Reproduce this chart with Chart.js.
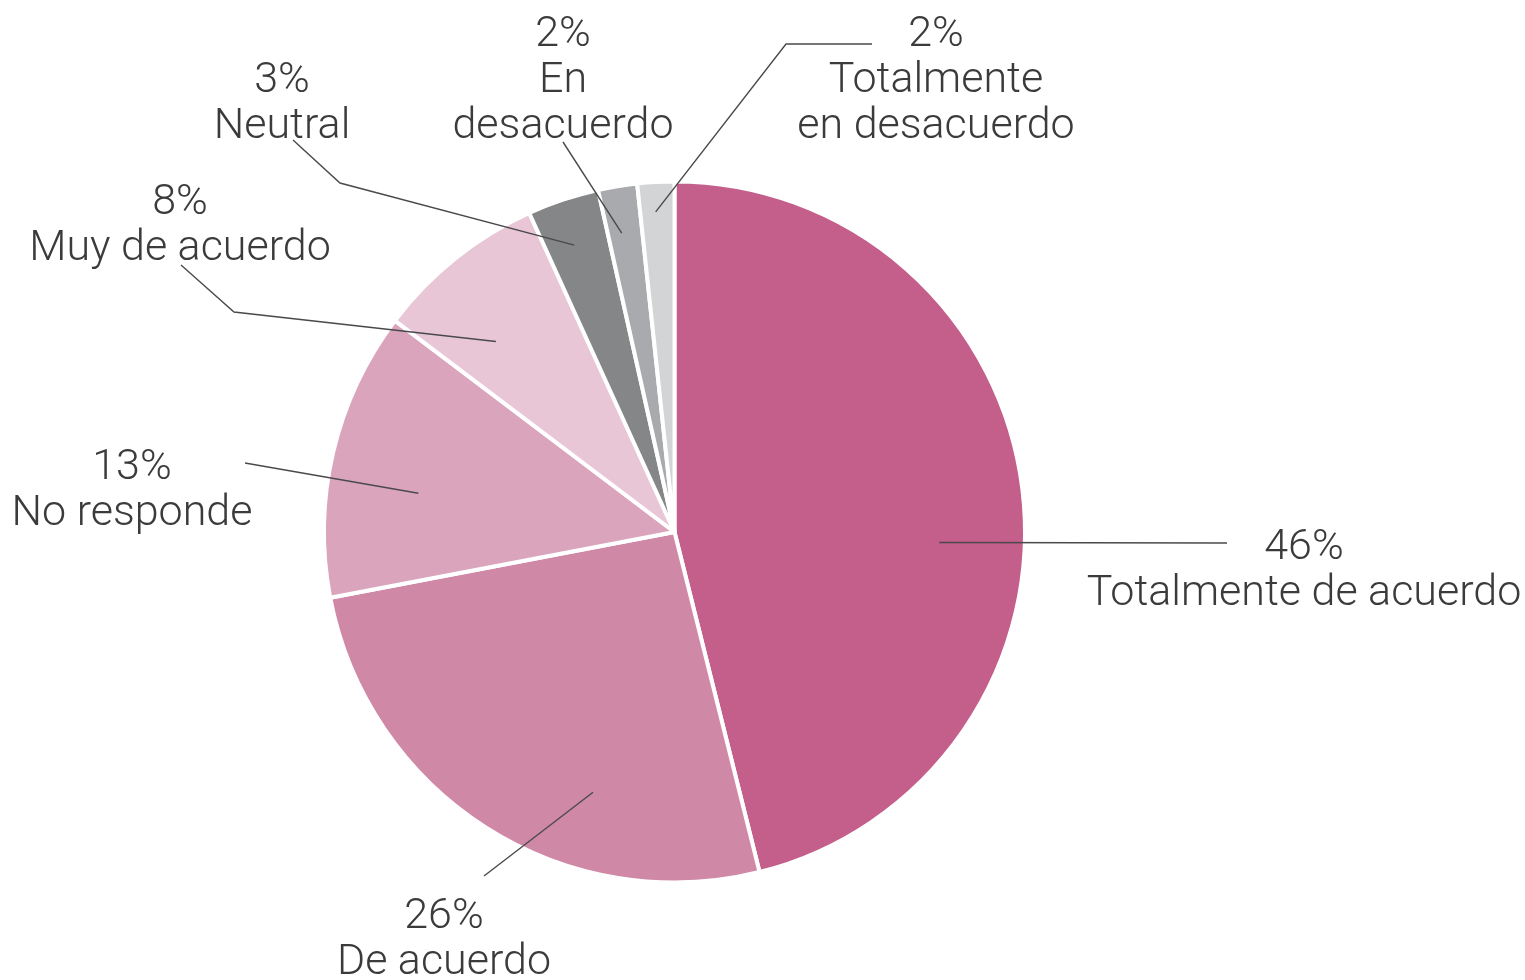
<!DOCTYPE html>
<html>
<head>
<meta charset="utf-8">
<script src="https://cdn.jsdelivr.net/npm/chart.js@4/dist/chart.umd.min.js"></script>
<style>
  html, body { margin: 0; padding: 0; background: #ffffff; }
  #wrap { width: 1525px; height: 980px; }
</style>
</head>
<body>
<div id="wrap"><canvas id="c" width="1525" height="980"></canvas></div>
<script>
// ---- data ----
const categories = ["Totalmente de acuerdo", "De acuerdo", "No responde", "Muy de acuerdo", "Neutral", "En desacuerdo", "Totalmente en desacuerdo"];
const labelLines = [["Totalmente de acuerdo"], ["De acuerdo"], ["No responde"], ["Muy de acuerdo"], ["Neutral"], ["En", "desacuerdo"], ["Totalmente", "en desacuerdo"]];
const shares = [46.1, 25.9, 13.3, 7.9, 3.3, 1.8, 1.7];
const sliceColors = ["#c45e8b", "#d088a7", "#daa5bc", "#e8c6d5", "#858688", "#a9aaad", "#d3d4d6"];

// ---- label layout (relative to pie centre, in px for radius 350.5) ----
// anchor: t = fraction along slice angle, r = fraction of radius
const anchors = [
  {t: 0.556, r: 0.756}, {t: 0.337, r: 0.778}, {t: 0.405, r: 0.739},
  {t: 0.343, r: 0.745}, {t: 0.44, r: 0.867}, {t: 0.40, r: 0.866}, {t: 0.45, r: 0.915}
];
const leaderPaths = [
  [[552.5, 11]],
  [[-190.5, 344]],
  [[-429.5, -69]],
  [[-440.5, -220], [-493.5, -267]],
  [[-334.5, -349], [-381.5, -392]],
  [[-111.5, -390]],
  [[111.5, -488], [197.5, -488]]
];
const textPos = [
  [629.5, 16], [-230.5, 385], [-542.5, -64], [-494.5, -329], [-392.5, -451], [-111.5, -497], [261.5, -497]
];

const labelPlugin = {
  id: 'leaderLabels',
  afterDatasetsDraw(chart) {
    const ctx = chart.ctx;
    const meta = chart.getDatasetMeta(0);
    meta.data.forEach((arc, i) => {
      const p = arc.getProps(['x', 'y', 'startAngle', 'endAngle', 'outerRadius'], true);
      const s = p.outerRadius / 350.5;
      const a = p.startAngle + anchors[i].t * (p.endAngle - p.startAngle);
      const ax = p.x + anchors[i].r * p.outerRadius * Math.cos(a);
      const ay = p.y + anchors[i].r * p.outerRadius * Math.sin(a);
      ctx.save();
      ctx.strokeStyle = '#4a4a4c';
      ctx.lineWidth = 1.4;
      ctx.beginPath();
      ctx.moveTo(ax, ay);
      leaderPaths[i].forEach(pt => ctx.lineTo(p.x + pt[0] * s, p.y + pt[1] * s));
      ctx.stroke();
      ctx.fillStyle = '#3b3b3d';
      ctx.font = '300 43px Roboto';
      ctx.textAlign = 'center';
      ctx.textBaseline = 'middle';
      const tx = p.x + textPos[i][0] * s;
      let ty = p.y + textPos[i][1] * s;
      const lines = [Math.round(shares[i]) + '%'].concat(labelLines[i]);
      lines.forEach((ln, k) => ctx.fillText(ln, tx, ty + k * 46));
      ctx.restore();
    });
  }
};

new Chart(document.getElementById('c'), {
  type: 'pie',
  data: {
    labels: categories,
    datasets: [{
      data: shares,
      backgroundColor: sliceColors,
      borderColor: '#ffffff',
      borderWidth: 4,
      radius: 350.5
    }]
  },
  options: {
    responsive: false,
    animation: false,
    events: [],
    layout: { padding: { left: 324, right: 500, top: 181.5, bottom: 97.5 } },
    plugins: { legend: { display: false }, tooltip: { enabled: false } }
  },
  plugins: [labelPlugin]
});
</script>
</body>
</html>
